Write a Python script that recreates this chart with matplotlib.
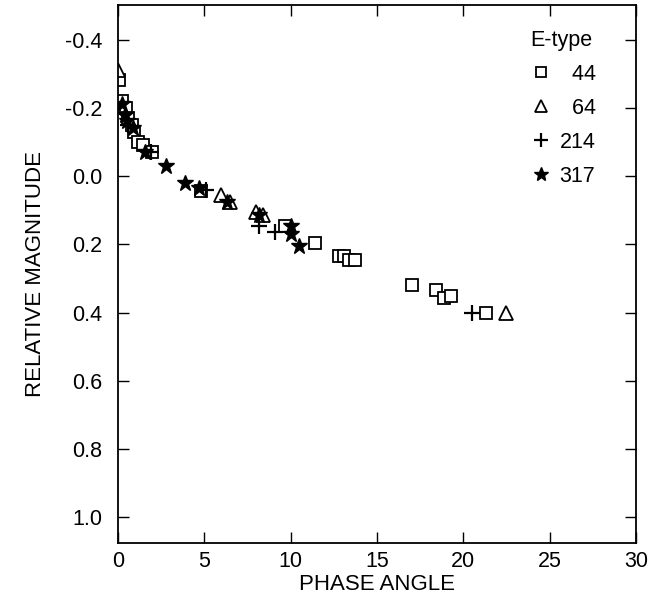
import matplotlib
matplotlib.use('Agg')
import matplotlib.pyplot as plt

plt.rcParams['font.family'] = ['Liberation Sans', 'DejaVu Sans']

# E-type 44 (squares)
x44 = [0.05, 0.25, 0.45, 0.6, 0.8, 0.95, 1.15, 1.45, 2.0, 4.8, 9.7, 11.4, 12.8, 13.1, 13.4, 13.75, 17.05, 18.4, 18.9, 19.3, 21.3]
y44 = [-0.28, -0.22, -0.2, -0.17, -0.15, -0.13, -0.10, -0.09, -0.07, 0.045, 0.145, 0.195, 0.235, 0.235, 0.245, 0.245, 0.32, 0.335, 0.357, 0.352, 0.40]

# E-type 64 (triangles)
x64 = [0.0, 6.0, 6.5, 8.0, 8.4, 22.5]
y64 = [-0.31, 0.055, 0.075, 0.105, 0.115, 0.40]

# E-type 214 (plus)
x214 = [0.6, 1.9, 5.1, 8.2, 9.1, 20.5]
y214 = [-0.15, -0.07, 0.04, 0.145, 0.165, 0.40]

# E-type 317 (stars)
x317 = [0.25, 0.4, 0.55, 0.9, 1.6, 2.8, 3.9, 4.7, 6.3, 8.2, 10.0, 10.0, 10.5]
y317 = [-0.21, -0.18, -0.16, -0.14, -0.07, -0.03, 0.02, 0.035, 0.075, 0.115, 0.145, 0.17, 0.205]

labels = ['  44', '  64', '214', '317']

fig = plt.figure(figsize=(6.51, 5.97), dpi=100)
ax = fig.add_axes([0.181, 0.0905, 0.796, 0.9005])

ax.plot(x44, y44, 's', ms=9, mfc='white', mec='black', mew=1.3, ls='none', label=labels[0])
ax.plot(x64, y64, '^', ms=10, mfc='white', mec='black', mew=1.3, ls='none', label=labels[1])
ax.plot(x214, y214, '+', ms=12, mec='black', mew=1.6, ls='none', label=labels[2])
ax.plot(x317, y317, '*', ms=12, mfc='black', mec='black', ls='none', label=labels[3])

ax.set_xlim(0, 30)
ax.set_ylim(1.075, -0.5)
ax.set_xticks([0, 5, 10, 15, 20, 25, 30])
ax.set_yticks([-0.4, -0.2, 0.0, 0.2, 0.4, 0.6, 0.8, 1.0])
ax.set_yticklabels(['-0.4', '-0.2', '0.0', '0.2', '0.4', '0.6', '0.8', '1.0'])
ax.tick_params(direction='in', top=True, right=True, length=8, width=1, labelsize=15.5)
ax.tick_params(axis='y', pad=11)
ax.tick_params(axis='x', pad=6)
for s in ax.spines.values():
    s.set_linewidth(1.3)

ax.set_xlabel('PHASE ANGLE', fontsize=16, labelpad=1)
ax.set_ylabel('RELATIVE MAGNITUDE', fontsize=16, labelpad=14)

leg = ax.legend(title='E-type', loc='upper left', frameon=False, fontsize=15.5,
                title_fontsize=15.5, handlelength=1.0, handletextpad=0.35,
                labelspacing=0.6, bbox_to_anchor=(0.78, 0.97),
                markerscale=0.85, borderaxespad=0)
leg._legend_box.align = 'left'

fig.savefig('out.png', dpi=100)
